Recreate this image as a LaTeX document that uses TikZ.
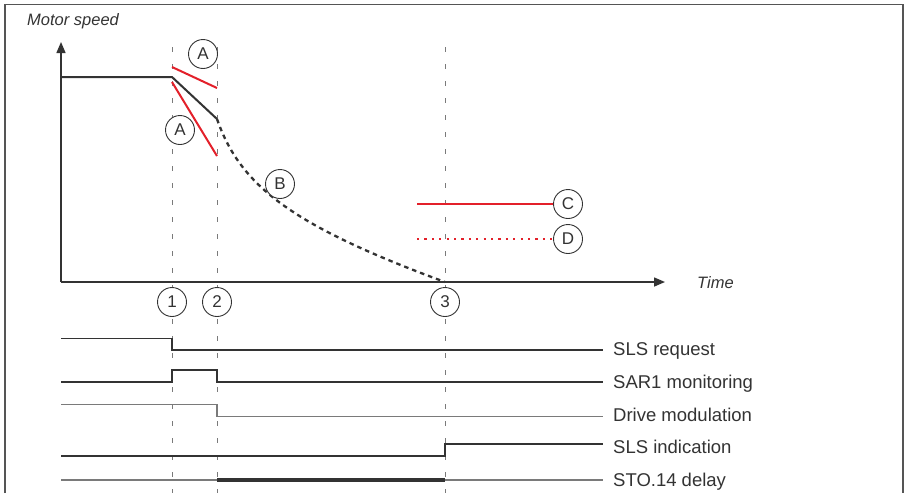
\documentclass[tikz,border=0pt]{standalone}
\usepackage{fontspec}
\setmainfont{Liberation Sans}
\usetikzlibrary{arrows.meta}
\definecolor{redl}{HTML}{E3202A}
\definecolor{ink}{HTML}{333333}
\definecolor{guidec}{HTML}{7A7A7A}
\definecolor{framec}{HTML}{555555}
\begin{document}
\begin{tikzpicture}[x=1pt,y=-1pt,
  guideline/.style={draw=guidec, line width=1pt, dash pattern=on 5pt off 12pt},
  axisline/.style={draw=ink, line width=1.5pt, -{Triangle[length=11pt,width=9pt]}},
  tag/.style={circle, draw=ink, fill=white, line width=0.9pt, minimum size=29pt, inner sep=0pt, font=\fontsize{17}{17}\selectfont, text=ink},
  sig/.style={draw=ink, line width=1.2pt},
  siggray/.style={draw=guidec, line width=1.3pt},
  siglbl/.style={anchor=base west, inner sep=0pt, font=\fontsize{18.5}{20}\selectfont, text=ink},
  axlbl/.style={anchor=base west, inner sep=0pt, font=\fontsize{16.5}{18}\selectfont\itshape, text=ink},
  speed/.style={draw=ink, line width=2pt},
  redline/.style={draw=redl, line width=2pt}]
\useasboundingbox (0,0) rectangle (905,493);
% frame
\draw[framec, line width=1.5pt] (5,493) -- (5,4.5) -- (903,4.5) -- (903,493);

% vertical guides
\coordinate (g1t) at (172,47); \coordinate (g1b) at (172,493);
\coordinate (g2t) at (217,47); \coordinate (g2b) at (217,493);
\coordinate (g3t) at (445,47); \coordinate (g3b) at (445,493);
\draw[guideline] (g1t) -- (g1b);
\draw[guideline] (g2t) -- (g2b);
\draw[guideline] (g3t) -- (g3b);

% axes
\coordinate (o) at (61,282);
\coordinate (ytip) at (61,42);
\coordinate (xtip) at (665,282);
\draw[axisline] (o) -- (ytip);
\draw[axisline] (o) -- (xtip);
\node[axlbl] (ms) at (27,25) {Motor speed};
\node[axlbl] (tm) at (697,288) {Time};

% speed curve
\coordinate (s0) at (61,77);
\coordinate (s1) at (172,77);
\coordinate (s2) at (217,119);
\coordinate (s3) at (445,282);
\draw[speed, line join=round] (s0) -- (s1) -- (s2);
\draw[speed, line width=2.3pt, dash pattern=on 4.5pt off 4pt] (s2) .. controls (240,185) and (290,225) .. (s3);

% red limits
\coordinate (ra1) at (172,67); \coordinate (ra2) at (217,88);
\coordinate (rb1) at (172,82); \coordinate (rb2) at (217,156);
\draw[redline] (ra1) -- (ra2);
\draw[redline] (rb1) -- (rb2);

% legend lines
\coordinate (cs) at (417,204);
\coordinate (ds) at (417,239);

% tags
\node[tag] (tA1) at (203,54) {A};
\node[tag] (tA2) at (180,130) {A};
\node[tag] (tB) at (280,184) {B};
\node[tag] (tC) at (568,204) {C};
\node[tag] (tD) at (568,239) {D};
\node[tag] (t1) at (172,302) {1};
\node[tag] (t2) at (217,302) {2};
\node[tag] (t3) at (445,302) {3};

\draw[redline] (cs) -- (tC.west);
\draw[redl, line width=2.2pt, dash pattern=on 2.2pt off 5.2pt] (ds) -- (tD.west);

% signals
\node[siglbl] (l1) at (613,355) {SLS request};
\node[siglbl] (l2) at (613,388) {SAR1 monitoring};
\node[siglbl] (l3) at (613,421) {Drive modulation};
\node[siglbl] (l4) at (613,453) {SLS indication};
\node[siglbl] (l5) at (613,486) {STO.14 delay};

\draw[sig] (61,338.5) -- (172,338.5) -- (172,350) -- (603,350);
\draw[sig] (61,382) -- (172,382) -- (172,370) -- (217,370) -- (217,382) -- (603,382);
\draw[siggray] (61,404.5) -- (217,404.5) -- (217,416.5) -- (603,416.5);
\draw[sig] (61,456) -- (445,456) -- (445,444) -- (603,444);
\draw[siggray] (61,480) -- (217,480);
\draw[draw=ink, line width=4pt] (217,480) -- (445,480);
\draw[siggray] (445,480) -- (603,480);
\end{tikzpicture}
\end{document}
